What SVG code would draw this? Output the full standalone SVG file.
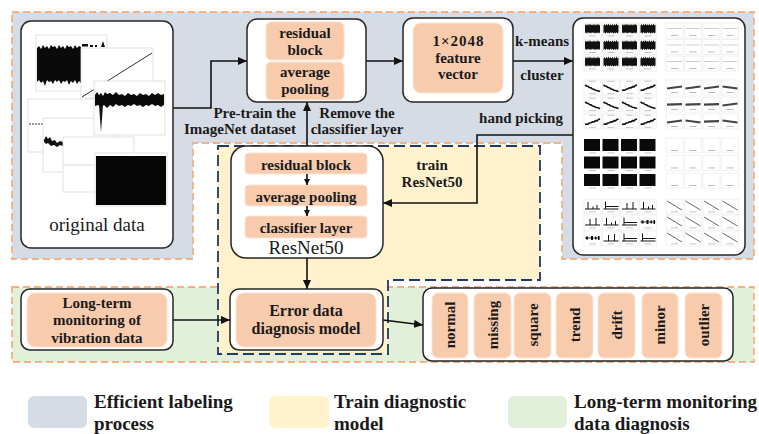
<svg xmlns="http://www.w3.org/2000/svg" xmlns:xlink="http://www.w3.org/1999/xlink" width="759" height="434" viewBox="0 0 759 434">
<style>
.node{fill:#fff;stroke:#262626;stroke-width:1.5}
.ob{fill:#f8cbad;stroke:#fde3d2;stroke-width:1}
.t{font-family:"Liberation Serif","Times New Roman",serif;font-weight:bold;font-size:15px;fill:#1a1a1a;text-anchor:middle}
.tn{font-family:"Liberation Serif","Times New Roman",serif;font-size:19px;fill:#1a1a1a;text-anchor:middle}
.lg{font-family:"Liberation Serif","Times New Roman",serif;font-weight:bold;font-size:19px;fill:#1a1a1a}
.conn{fill:none;stroke:#111;stroke-width:1.6}
.pn{fill:#fff;stroke:#d9d9d9;stroke-width:0.8}
.fr{fill:#fff;stroke:#e4e4e4;stroke-width:0.5}
.lb{fill:#b5b5b5}
.wv{fill:none;stroke:#111;stroke-width:1.6}
</style>
<defs>
<marker id="ah" markerUnits="userSpaceOnUse" markerWidth="10" markerHeight="8" refX="9" refY="4" orient="auto"><path d="M0,0 L9,4 L0,8 Z" fill="#111"/></marker>
<marker id="ahs" markerUnits="userSpaceOnUse" markerWidth="7" markerHeight="6" refX="6" refY="3" orient="auto"><path d="M0,0 L6,3 L0,6 Z" fill="#111"/></marker>
<g id="tnz"><rect class="fr" width="17" height="15"/><path d="M1,2.5 L2,1 L3,2.8 L4,0.8 L5,2.4 L6,0.6 L7,2.6 L8,1.2 L9,2.5 L10,0.7 L11,2.8 L12,1 L13,2.4 L14,0.5 L15,2.4 L16,1.4 L16,9.2 L15,10.6 L14,9.2 L13,10.3 L12,9.4 L11,10.8 L10,9.3 L9,10.2 L8,9.1 L7,10.7 L6,9.4 L5,10.3 L4,9 L3,10.8 L2,9.3 L1,10.2 Z" fill="#111"/><rect class="lb" x="5" y="12.5" width="7" height="0.9"/></g>
<g id="tfl"><rect class="fr" width="17" height="15"/><path d="M1,5.5 H16" stroke="#c4c4c4" stroke-width="0.8"/><rect class="lb" x="5" y="12" width="7" height="0.9"/></g>
<g id="twd"><rect class="fr" width="17" height="15"/><rect class="lb" x="5" y="0.8" width="7" height="0.8"/><path class="wv" d="M1,5 L2.5,6 L4,6.3 L5.5,7.5 L7,7.8 L8.5,9 L10,9.3 L11.5,10.3 L13,10.5 L14.5,11 L16,11.5"/><rect class="lb" x="5" y="13.3" width="7" height="0.8"/></g>
<g id="twa"><rect class="fr" width="17" height="15"/><rect class="lb" x="5" y="0.8" width="7" height="0.8"/><path class="wv" d="M1,10.5 L2.5,10 L4,10.2 L5.5,9 L7,8.7 L8.5,7.8 L10,7.9 L11.5,6.6 L13,6.8 L14.5,5.5 L16,5"/><rect class="lb" x="5" y="13.3" width="7" height="0.8"/></g>
<g id="tku"><rect class="fr" width="17" height="15"/><path d="M1,8.5 L16,6.5" stroke="#444" stroke-width="2.2"/><rect class="lb" x="5" y="12" width="7" height="0.9"/></g>
<g id="tkd"><rect class="fr" width="17" height="15"/><path d="M1,6.5 L16,8.5" stroke="#444" stroke-width="2.2"/><rect class="lb" x="5" y="12" width="7" height="0.9"/></g>
<g id="tkf"><rect class="fr" width="17" height="15"/><path d="M1,7.6 L16,7.2" stroke="#444" stroke-width="2.2"/><rect class="lb" x="5" y="12" width="7" height="0.9"/></g>
<g id="tsq"><rect x="0" y="0" width="16" height="12" fill="#0a0a0a"/><rect class="lb" x="5" y="13.5" width="7" height="0.8"/></g>
<g id="tbl"><rect class="fr" width="17" height="15"/><rect class="lb" x="5" y="12" width="7" height="0.9"/></g>
<g id="ts1"><rect class="fr" width="17" height="15"/><path d="M1,10 H16 M4,10 V3 M9,10 V7.5 M13,10 V6" stroke="#111" stroke-width="1" fill="none"/><rect class="lb" x="5" y="12.5" width="7" height="0.8"/></g>
<g id="ts2"><rect class="fr" width="17" height="15"/><path d="M1,10 H16 M3,10 V2.5 M3,7.5 H16" stroke="#111" stroke-width="1" fill="none"/><rect class="lb" x="5" y="12.5" width="7" height="0.8"/></g>
<g id="ts3"><rect class="fr" width="17" height="15"/><path d="M1,10 H16 M6,10 V4 M12,10 V3" stroke="#111" stroke-width="1" fill="none"/><rect class="lb" x="5" y="12.5" width="7" height="0.8"/></g>
<g id="ts4"><rect class="fr" width="17" height="15"/><path d="M1,7 H16" stroke="#111" stroke-width="0.8"/><path d="M2,5.5 h2 v3 h-2 Z M7,5 h2 v4 h-2 Z M11,5.5 h1.5 v3 h-1.5 Z M14,5 h1.5 v4 h-1.5 Z" fill="#111"/><rect class="lb" x="5" y="12.5" width="7" height="0.8"/></g>
<g id="tdg"><rect class="fr" width="17" height="15"/><path d="M1,2 L16,11" stroke="#666" stroke-width="1"/><rect class="lb" x="5" y="12.5" width="7" height="0.8"/></g>
</defs>

<g id="regions">
<rect x="12" y="287" width="742" height="75" fill="#e2f0d9" stroke="#f4b183" stroke-width="1.8" stroke-dasharray="7 4"/>
<path d="M12,12 H754 V259 H562 V143 H193 V259 H12 Z" fill="#d6dce5" stroke="#f4b183" stroke-width="1.8" stroke-dasharray="7 4"/>
<path d="M218,146 H540 V280 H388 V354 H218 Z" fill="#fff2cc" stroke="#1f3864" stroke-width="1.8" stroke-dasharray="11 5"/>
</g>

<g id="connectors">
<path class="conn" d="M173,108 H211 V61 H247" marker-end="url(#ah)"/>
<path class="conn" d="M366,61 H403" marker-end="url(#ah)"/>
<path class="conn" d="M513,61 H573" marker-end="url(#ah)"/>
<path class="conn" d="M307,146 V102" marker-end="url(#ah)"/>
<path class="conn" d="M573,135 H477 V203 H383" marker-end="url(#ah)"/>
<path class="conn" d="M307,258 V289" marker-end="url(#ah)"/>
<path class="conn" d="M173,320 H230" marker-end="url(#ah)"/>
<path class="conn" d="M383,320 L423,325" marker-end="url(#ah)"/>
<text class="t" x="542" y="46">k-means</text>
<text class="t" x="542" y="80">cluster</text>
<text class="t" x="296" y="118" style="text-anchor:end">Pre-train the</text>
<text class="t" x="296" y="134" style="text-anchor:end">ImageNet dataset</text>
<text class="t" x="357" y="118">Remove the</text>
<text class="t" x="357" y="134">classifier layer</text>
<text class="t" x="521" y="123">hand picking</text>
<text class="t" x="432" y="170">train</text>
<text class="t" x="432" y="187">ResNet50</text>
</g>

<g id="original-data">
<rect class="node" x="21" y="21" width="152" height="227" rx="10"/>
<rect class="pn" x="36" y="35" width="71" height="56"/>
<path d="M37,48 L39,46 L41,49 L43,45 L45,48 L47,46 L49,49 L51,45 L53,47 L55,46 L57,49 L59,45 L61,48 L63,46 L65,49 L67,45 L69,47 L71,46 L73,49 L75,45 L77,48 L79,46 L81,47 L81,83 L79,81 L77,84 L75,80 L73,83 L71,81 L69,85 L67,80 L65,82 L63,81 L61,84 L59,80 L57,82 L55,80 L53,84 L51,81 L49,82 L47,80 L45,86 L43,81 L41,83 L39,80 L37,82 Z" fill="#0a0a0a"/>
<path d="M82,44 h6 v2.5 h-6 Z M90,45 h3 v2 h-3 Z M95,45 h2 v2 h-2 Z M101,47 L103,41 L105,47 Z" fill="#111"/>
<rect class="pn" x="81" y="48" width="72" height="50"/>
<path d="M82,97 L152,53" stroke="#333" stroke-width="1"/>
<rect class="pn" x="28" y="99" width="67" height="53"/>
<path d="M29,124 H43" stroke="#333" stroke-width="1.2" stroke-dasharray="2 1"/>
<rect class="pn" x="43" y="118" width="72" height="54"/>
<path d="M44,140 L46,136 L48,139 L50,137 L52,141 L55,140 L57,143 L60,141 L63,142 L63,146 L60,145 L57,147 L54,145 L51,146 L48,143 L46,144 L44,142 Z" fill="#111"/>
<rect class="pn" x="63" y="137" width="71" height="55"/>
<path d="M63,165 H95" stroke="#d0d0d0" stroke-width="0.8"/>
<rect class="pn" x="94" y="81" width="71" height="54"/>
<path d="M95,95 L97,92 L99,95 L101,93 L103,96 L105,92 L107,94 L110,93 L113,95 L116,92 L119,95 L122,94 L125,96 L128,93 L131,95 L134,94 L137,96 L140,93 L143,95 L146,94 L149,96 L152,93 L155,95 L158,93 L161,95 L164,94 L164,105 L161,107 L158,105 L155,106 L152,104 L149,106 L146,105 L143,107 L140,105 L137,106 L134,104 L131,106 L128,105 L125,107 L122,105 L119,106 L116,104 L113,107 L110,105 L107,108 L104,105 L101,107 L98,105 L95,106 Z" fill="#0a0a0a"/>
<path d="M99,105 L101,132 L103,105 Z" fill="#111"/>
<rect class="pn" x="95" y="153" width="72" height="53"/>
<rect x="96" y="156" width="70" height="49" fill="#050505"/>
<text class="tn" x="97" y="231">original data</text>
</g>

<g id="pretrain-node">
<rect class="node" x="247" y="19" width="119" height="83" rx="10"/>
<rect class="ob" x="266" y="22" width="78" height="38" rx="5"/>
<rect class="ob" x="266" y="62" width="78" height="38" rx="5"/>
<text class="t" x="305" y="38">residual</text>
<text class="t" x="305" y="55">block</text>
<text class="t" x="305" y="77">average</text>
<text class="t" x="305" y="94">pooling</text>
</g>

<g id="feature-node">
<rect class="node" x="403" y="18" width="110" height="84" rx="10"/>
<rect class="ob" x="413" y="23" width="90" height="70" rx="8"/>
<text class="t" x="458" y="46" textLength="51">1×2048</text>
<text class="t" x="458" y="63">feature</text>
<text class="t" x="458" y="79">vector</text>
</g>

<g id="cluster-node">
<rect class="node" x="573" y="18" width="172" height="237" rx="10"/>
<use href="#tnz" x="584" y="23"/><use href="#tnz" x="602.5" y="23"/><use href="#tnz" x="621" y="23"/><use href="#tnz" x="639.5" y="23"/>
<use href="#tnz" x="584" y="39.5"/><use href="#tnz" x="602.5" y="39.5"/><use href="#tnz" x="621" y="39.5"/><use href="#tnz" x="639.5" y="39.5"/>
<use href="#tnz" x="584" y="56"/><use href="#tnz" x="602.5" y="56"/><use href="#tnz" x="621" y="56"/><use href="#tnz" x="639.5" y="56"/>
<use href="#tfl" x="666" y="23"/><use href="#tfl" x="684.5" y="23"/><use href="#tfl" x="703" y="23"/><use href="#tfl" x="721.5" y="23"/>
<use href="#tfl" x="666" y="39.5"/><use href="#tfl" x="684.5" y="39.5"/><use href="#tfl" x="703" y="39.5"/><use href="#tfl" x="721.5" y="39.5"/>
<use href="#tfl" x="666" y="56"/><use href="#tfl" x="684.5" y="56"/><use href="#tfl" x="703" y="56"/><use href="#tfl" x="721.5" y="56"/>
<use href="#twd" x="584" y="80"/><use href="#twd" x="602.5" y="80"/><use href="#twa" x="621" y="80"/><use href="#twa" x="639.5" y="80"/>
<use href="#twd" x="584" y="97"/><use href="#twd" x="602.5" y="97"/><use href="#twd" x="621" y="97"/><use href="#twd" x="639.5" y="97"/>
<use href="#twa" x="584" y="114"/><use href="#twa" x="602.5" y="114"/><use href="#twa" x="621" y="114"/><use href="#twa" x="639.5" y="114"/>
<use href="#tku" x="666" y="80"/><use href="#tku" x="684.5" y="80"/><use href="#tku" x="703" y="80"/><use href="#tkd" x="721.5" y="80"/>
<use href="#tkf" x="666" y="97"/><use href="#tkf" x="684.5" y="97"/><use href="#tkf" x="703" y="97"/><use href="#tku" x="721.5" y="97"/>
<use href="#tku" x="666" y="114"/><use href="#tkd" x="684.5" y="114"/><use href="#tkf" x="703" y="114"/><use href="#tkd" x="721.5" y="114"/>
<use href="#tsq" x="584" y="139"/><use href="#tsq" x="602.5" y="139"/><use href="#tsq" x="621" y="139"/><use href="#tsq" x="639.5" y="139"/>
<use href="#tsq" x="584" y="156.5"/><use href="#tsq" x="602.5" y="156.5"/><use href="#tsq" x="621" y="156.5"/><use href="#tsq" x="639.5" y="156.5"/>
<use href="#tsq" x="584" y="174"/><use href="#tsq" x="602.5" y="174"/><use href="#tsq" x="621" y="174"/><use href="#tsq" x="639.5" y="174"/>
<use href="#tbl" x="666" y="138"/><use href="#tbl" x="684.5" y="138"/><use href="#tbl" x="703" y="138"/><use href="#tbl" x="721.5" y="138"/>
<use href="#tbl" x="666" y="155.5"/><use href="#tbl" x="684.5" y="155.5"/><use href="#tbl" x="703" y="155.5"/><use href="#tbl" x="721.5" y="155.5"/>
<use href="#tbl" x="666" y="173"/><use href="#tbl" x="684.5" y="173"/><use href="#tbl" x="703" y="173"/><use href="#tbl" x="721.5" y="173"/>
<use href="#ts1" x="584" y="199"/><use href="#ts2" x="602.5" y="199"/><use href="#ts3" x="621" y="199"/><use href="#ts1" x="639.5" y="199"/>
<use href="#ts3" x="584" y="215"/><use href="#ts1" x="602.5" y="215"/><use href="#ts2" x="621" y="215"/><use href="#ts4" x="639.5" y="215"/>
<use href="#ts4" x="584" y="231"/><use href="#ts3" x="602.5" y="231"/><use href="#ts2" x="621" y="231"/><use href="#ts2" x="639.5" y="231"/>
<use href="#tdg" x="666" y="199"/><use href="#tdg" x="684.5" y="199"/><use href="#tdg" x="703" y="199"/><use href="#tdg" x="721.5" y="199"/>
<use href="#tdg" x="666" y="215"/><use href="#tdg" x="684.5" y="215"/><use href="#tdg" x="703" y="215"/><use href="#tdg" x="721.5" y="215"/>
<use href="#tdg" x="666" y="231"/><use href="#tdg" x="684.5" y="231"/><use href="#tdg" x="703" y="231"/><use href="#tdg" x="721.5" y="231"/>
</g>

<g id="resnet50-node">
<rect class="node" x="231" y="146" width="152" height="112" rx="15"/>
<rect class="ob" x="245" y="153" width="122" height="21" rx="4"/>
<rect class="ob" x="245" y="185" width="122" height="21" rx="4"/>
<rect class="ob" x="245" y="216" width="122" height="22" rx="4"/>
<path class="conn" d="M307,174 V185" stroke-width="1.2" marker-end="url(#ahs)"/>
<path class="conn" d="M307,206 V216" stroke-width="1.2" marker-end="url(#ahs)"/>
<text class="t" x="306" y="170">residual block</text>
<text class="t" x="306" y="202">average pooling</text>
<text class="t" x="306" y="233">classifier layer</text>
<text class="tn" x="306" y="254">ResNet50</text>
</g>

<g id="longterm-node">
<rect class="node" x="21" y="289" width="152" height="61" rx="9"/>
<rect class="ob" x="27" y="293" width="140" height="54" rx="8"/>
<text class="t" x="97" y="308">Long-term</text>
<text class="t" x="97" y="325">monitoring of</text>
<text class="t" x="97" y="343">vibration data</text>
</g>

<g id="diagnosis-node">
<rect class="node" x="230" y="289" width="153" height="61" rx="9"/>
<rect class="ob" x="236" y="293" width="140" height="54" rx="8"/>
<text class="t" x="306" y="316" style="font-size:16px">Error data</text>
<text class="t" x="306" y="334" style="font-size:16px">diagnosis model</text>
</g>

<g id="classes-node">
<rect class="node" x="423" y="288" width="310" height="73" rx="9"/>
<rect class="ob" x="432" y="293" width="36" height="65" rx="6"/>
<rect class="ob" x="474" y="293" width="37" height="65" rx="6"/>
<rect class="ob" x="514" y="293" width="37" height="65" rx="6"/>
<rect class="ob" x="556" y="293" width="37" height="65" rx="6"/>
<rect class="ob" x="598" y="293" width="37" height="65" rx="6"/>
<rect class="ob" x="642" y="293" width="36" height="65" rx="6"/>
<rect class="ob" x="685" y="293" width="37" height="65" rx="6"/>
<text class="t" transform="translate(450,325) rotate(-90)" dominant-baseline="central">normal</text>
<text class="t" transform="translate(492.5,325) rotate(-90)" dominant-baseline="central">missing</text>
<text class="t" transform="translate(532.5,325) rotate(-90)" dominant-baseline="central">square</text>
<text class="t" transform="translate(574.5,325) rotate(-90)" dominant-baseline="central">trend</text>
<text class="t" transform="translate(616.5,325) rotate(-90)" dominant-baseline="central">drift</text>
<text class="t" transform="translate(660,325) rotate(-90)" dominant-baseline="central">minor</text>
<text class="t" transform="translate(703.5,325) rotate(-90)" dominant-baseline="central">outlier</text>
</g>

<g id="legend">
<rect x="28" y="396" width="59" height="32" rx="6" fill="#d6dce5"/>
<text class="lg" x="94" y="408">Efficient labeling</text>
<text class="lg" x="94" y="430">process</text>
<rect x="269" y="396" width="60" height="32" rx="6" fill="#fff2cc"/>
<text class="lg" x="334" y="408">Train diagnostic</text>
<text class="lg" x="334" y="430">model</text>
<rect x="508" y="396" width="59" height="32" rx="6" fill="#e2f0d9"/>
<text class="lg" x="574" y="408">Long-term monitoring</text>
<text class="lg" x="574" y="430">data diagnosis</text>
</g>
</svg>
